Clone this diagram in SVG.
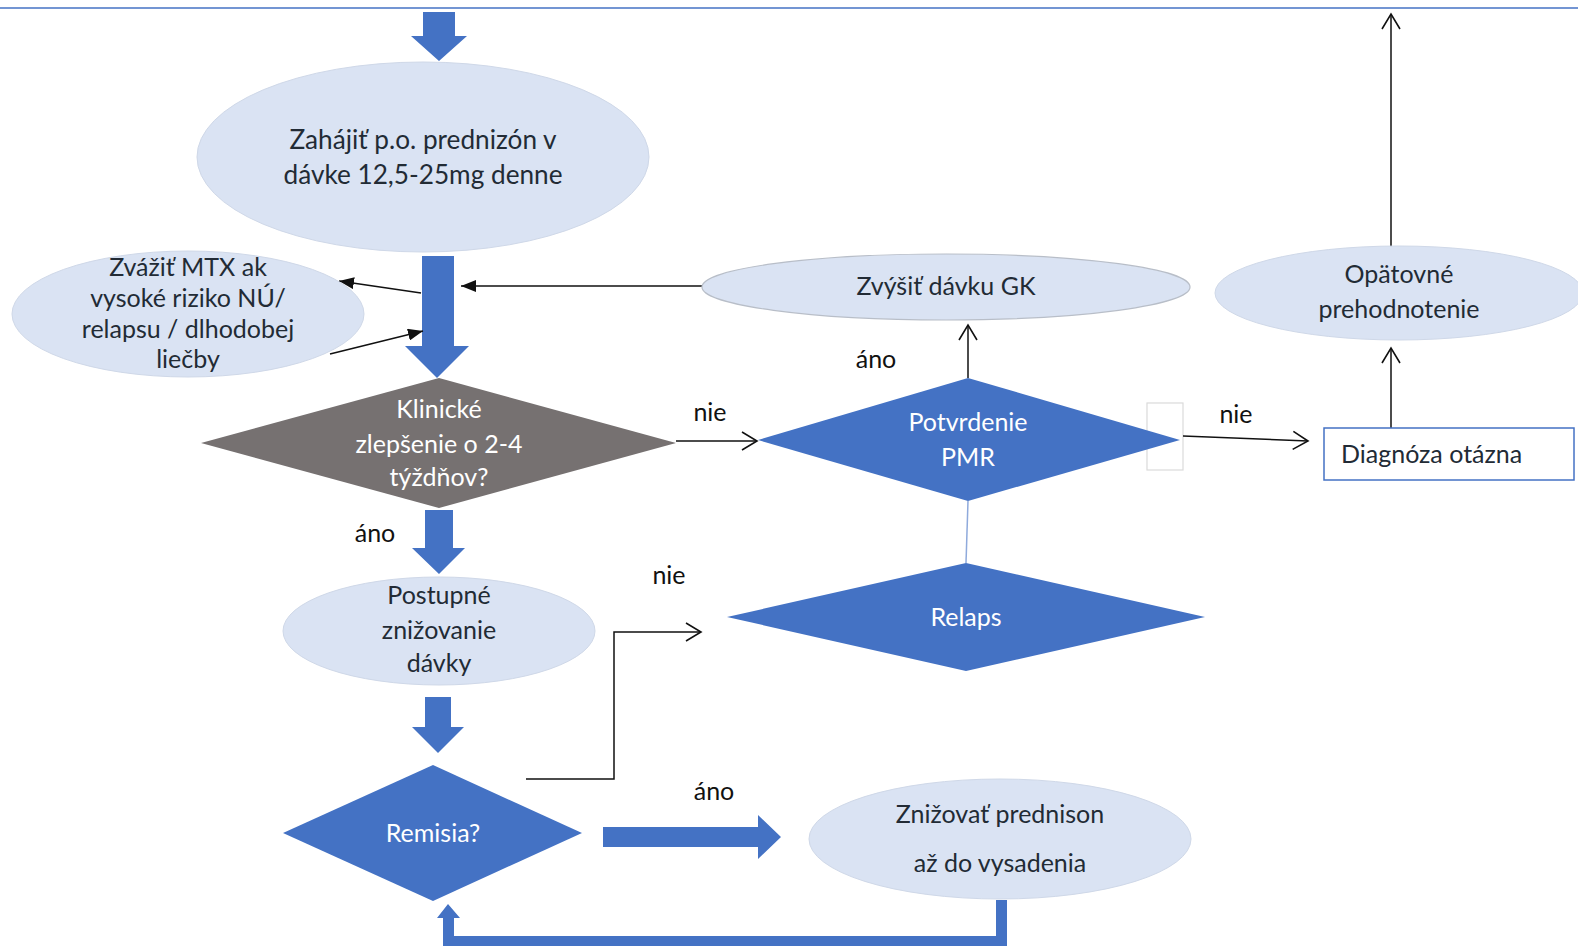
<svg xmlns="http://www.w3.org/2000/svg" width="1578" height="946" viewBox="0 0 1578 946">
<defs>
<style>
.ell{fill:#dae3f3;stroke:#cfd8e8;stroke-width:1}
.blue{fill:#4472c4}
.gray{fill:#767171}
.t{font-family:Lato,"Liberation Sans",sans-serif;font-size:25px;fill:#222b35;text-anchor:middle}
.big{font-size:26.2px}
.w{fill:#ffffff}
.lbl{font-family:Lato,"Liberation Sans",sans-serif;font-size:25px;fill:#111111;text-anchor:middle}
.ln{stroke:#111111;stroke-width:1.5;fill:none}
</style>
<marker id="open" markerUnits="userSpaceOnUse" markerWidth="20" markerHeight="22" viewBox="0 0 20 22" refX="17" refY="11" orient="auto">
<path d="M2,2 L17,11 L2,20" fill="none" stroke="#111111" stroke-width="1.6"/>
</marker>
<marker id="fill" markerUnits="userSpaceOnUse" markerWidth="16" markerHeight="12" viewBox="0 0 16 12" refX="15" refY="6" orient="auto">
<path d="M0,0 L15,6 L0,12 Z" fill="#111111"/>
</marker>
</defs>
<rect x="0" y="0" width="1578" height="946" fill="#ffffff"/>
<line x1="0" y1="8" x2="1578" y2="8" stroke="#4472c4" stroke-width="1.5"/>

<g id="connectors">
<polygon class="blue" points="423,12 455,12 455,36 467,36 439,61 411,36 423,36"/>
<polygon class="blue" points="422,256 454,256 454,346 469,346 437,378 405,346 422,346"/>
<line class="ln" x1="421" y1="293" x2="339" y2="281" marker-end="url(#fill)"/>
<line class="ln" x1="330" y1="354" x2="423" y2="331" marker-end="url(#fill)"/>
<line class="ln" x1="702" y1="286" x2="461" y2="286" marker-end="url(#fill)"/>
<line class="ln" x1="676" y1="441" x2="757" y2="441" marker-end="url(#open)"/>
<line class="ln" x1="968" y1="378" x2="968" y2="325" marker-end="url(#open)"/>
<rect x="1147" y="403" width="36" height="67" fill="none" stroke="#dadada" stroke-width="1.2"/>
<line class="ln" x1="1183" y1="436" x2="1308" y2="441" marker-end="url(#open)"/>
<line class="ln" x1="1391" y1="428" x2="1391" y2="348" marker-end="url(#open)"/>
<line class="ln" x1="1391" y1="249" x2="1391" y2="14" marker-end="url(#open)"/>
<line x1="968" y1="501" x2="966" y2="563" stroke="#8faadc" stroke-width="1.5"/>
<polygon class="blue" points="425,510 453,510 453,548 465,548 439,574 412,548 425,548"/>
<polyline class="ln" points="526,779 614,779 614,632 701,632" marker-end="url(#open)"/>
<polygon class="blue" points="425,697 451,697 451,727 464,727 438,753 412,727 425,727"/>
<polygon class="blue" points="603,827 758,827 758,815 781,837 758,859 758,847 603,847"/>
<polygon class="blue" points="996,900 1007,900 1007,946 443,946 443,918 437,918 448,904 460,918 454,918 454,936 996,936"/>
</g>

<g id="n-start">
<ellipse class="ell" cx="423" cy="157" rx="226" ry="95"/>
<text class="t big" x="423" y="149">Zahájiť p.o. prednizón v</text>
<text class="t big" x="423" y="184">dávke 12,5-25mg denne</text>
</g>

<g id="n-mtx">
<ellipse class="ell" cx="188" cy="314" rx="176" ry="63"/>
<text class="t" x="188" y="276">Zvážiť MTX ak</text>
<text class="t" x="188" y="307">vysoké riziko NÚ/</text>
<text class="t" x="188" y="338">relapsu / dlhodobej</text>
<text class="t" x="188" y="368">liečby</text>
</g>

<g id="n-zvysit">
<ellipse cx="946" cy="287" rx="244" ry="33" fill="#dae3f3" stroke="#b8bec8" stroke-width="1.2"/>
<text class="t" x="946" y="295">Zvýšiť dávku GK</text>
</g>

<g id="n-opat">
<ellipse class="ell" cx="1399" cy="293" rx="184" ry="47"/>
<text class="t" x="1399" y="283">Opätovné</text>
<text class="t" x="1399" y="318">prehodnotenie</text>
</g>

<g id="n-klin">
<polygon class="gray" points="201,443 439,378 676,443 439,508"/>
<text class="t w" x="439" y="418">Klinické</text>
<text class="t w" x="439" y="453">zlepšenie o 2-4</text>
<text class="t w" x="439" y="486">týždňov?</text>
</g>

<g id="n-potv">
<polygon class="blue" points="758,440 968,378 1180,440 968,501"/>
<text class="t w" x="968" y="431">Potvrdenie</text>
<text class="t w" x="968" y="466">PMR</text>
</g>

<g id="n-diag">
<rect x="1324" y="428" width="250" height="52" fill="#ffffff" stroke="#4472c4" stroke-width="1.5"/>
<text class="t" x="1341" y="463" style="text-anchor:start">Diagnóza otázna</text>
</g>

<g id="n-relaps">
<polygon class="blue" points="727,617 966,563 1205,617 966,671"/>
<text class="t w" x="966" y="626">Relaps</text>
</g>

<g id="n-postup">
<ellipse class="ell" cx="439" cy="631" rx="156" ry="54"/>
<text class="t" x="439" y="604">Postupné</text>
<text class="t" x="439" y="639">znižovanie</text>
<text class="t" x="439" y="672">dávky</text>
</g>

<g id="n-remisia">
<polygon class="blue" points="283,833 433,765 582,833 433,901"/>
<text class="t w" x="433" y="842">Remisia?</text>
</g>

<g id="n-znizovat">
<ellipse class="ell" cx="1000" cy="839" rx="191" ry="60"/>
<text class="t" x="1000" y="823">Znižovať prednison</text>
<text class="t" x="1000" y="872">až do vysadenia</text>
</g>

<g id="labels">
<text class="lbl" x="710" y="421">nie</text>
<text class="lbl" x="876" y="368">áno</text>
<text class="lbl" x="1236" y="423">nie</text>
<text class="lbl" x="375" y="542">áno</text>
<text class="lbl" x="669" y="584">nie</text>
<text class="lbl" x="714" y="800">áno</text>
</g>
</svg>
